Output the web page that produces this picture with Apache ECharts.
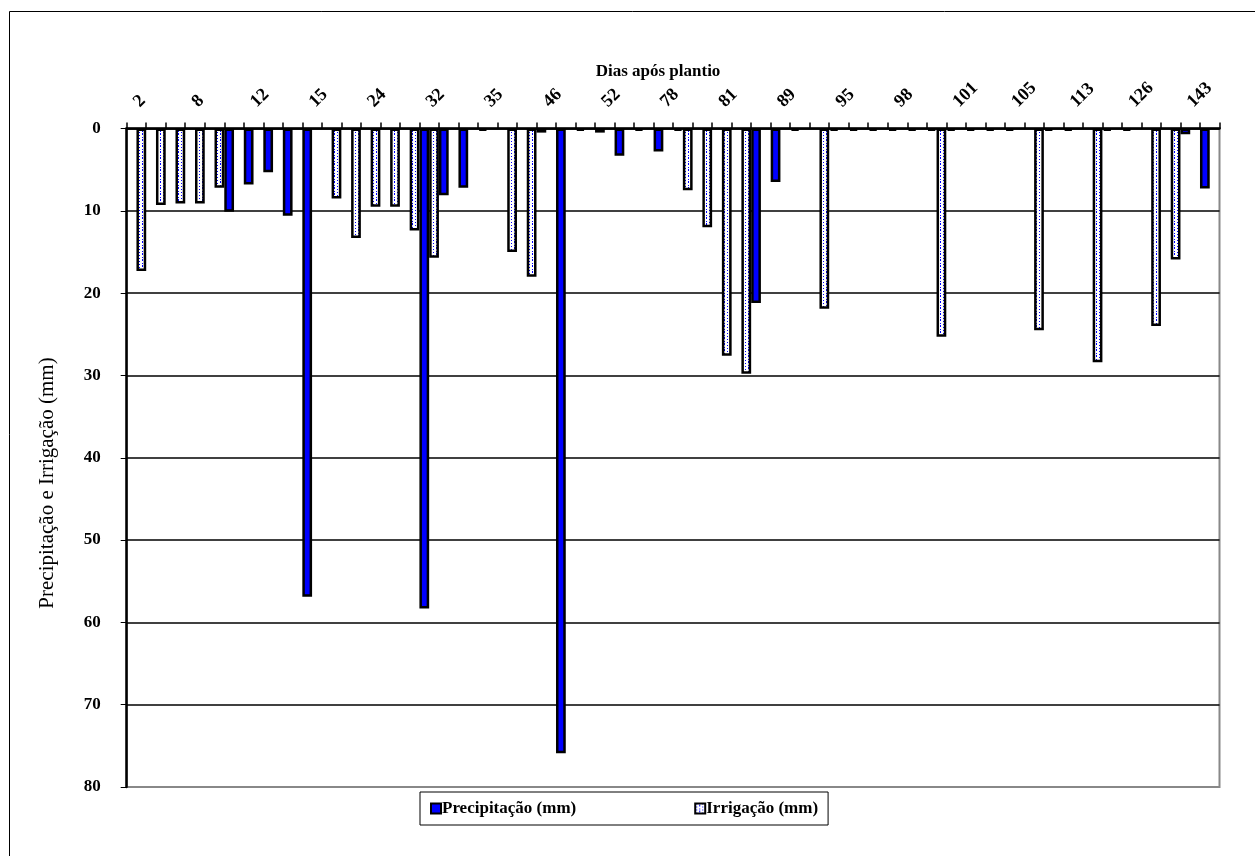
<!DOCTYPE html>
<html>
<head>
<meta charset="utf-8">
<script src="https://cdn.jsdelivr.net/npm/echarts@6/dist/echarts.min.js"></script>
<style>
html,body{margin:0;padding:0;background:#fff;}
#chart{width:1255px;height:856px;}
</style>
</head>
<body>
<div id="chart"></div>
<script>
// Categories: days after planting (only every third label is shown in the reference)
const days = [2, 4, 6, 8, 10, 11, 12, 13, 14, 15, 18, 21, 24, 27, 29, 32, 33, 34, 35, 39,
  42, 46, 48, 50, 52, 60, 70, 78, 79, 80, 81, 84, 86, 89, 91, 93, 95, 96, 97, 98,
  99, 100, 101, 102, 104, 105, 108, 110, 113, 117, 122, 126, 130, 136, 143, 146];

const precipitacao = [0, 0, 0, 0, 0, 10.1, 6.8, 5.3, 10.6, 56.9, 0, 0, 0, 0, 0, 58.3, 8.1, 7.2, 0.3, 0,
  0, 0.5, 75.9, 0.3, 0.5, 3.3, 0.3, 2.8, 0.3, 0, 0, 0, 21.2, 6.5, 0.3, 0, 0.3, 0.3, 0.3, 0.3,
  0.3, 0.3, 0.3, 0.3, 0.3, 0.3, 0, 0.3, 0.3, 0, 0.3, 0.3, 0, 0, 0.7, 7.3];

const irrigacao = [17.3, 9.3, 9.1, 9.1, 7.2, 0, 0, 0, 0, 0, 8.5, 13.3, 9.5, 9.5, 12.4, 15.7, 0, 0, 0, 15.0,
  18.0, 0, 0, 0, 0, 0, 0, 0, 7.5, 12.0, 27.6, 29.8, 0, 0, 0, 21.9, 0, 0, 0, 0,
  0, 25.3, 0, 0, 0, 0, 24.5, 0, 0, 28.4, 0, 0, 24.0, 15.9, 0, 0];

const yTicks = [0, 10, 20, 30, 40, 50, 60, 70, 80];

const seriesNames = ['Precipitação (mm)', 'Irrigação (mm)'];

// dotted fill pattern
const pc = document.createElement('canvas');
pc.width = 6; pc.height = 6;
const ctx = pc.getContext('2d');
ctx.fillStyle = '#ffffff';
ctx.fillRect(0, 0, 6, 6);
ctx.fillStyle = '#0000ff';
ctx.fillRect(1, 0, 1, 1);
ctx.fillRect(1, 3, 1, 1);
ctx.fillRect(4, 1, 1, 2);
ctx.fillRect(4, 5, 1, 1);

const toData = arr => arr.map(v => (v === 0 ? '-' : v));

const serif = '"Liberation Serif", "Times New Roman", serif';

const chart = echarts.init(document.getElementById('chart'), null, {renderer: 'canvas'});
chart.setOption({
  animation: false,
  backgroundColor: '#ffffff',
  title: {
    text: 'Dias após plantio',
    left: 653,
    top: 58,
    textAlign: 'center',
    textStyle: {fontFamily: serif, fontWeight: 'bold', fontSize: 17, color: '#000'}
  },
  legend: {
    data: seriesNames,
    left: 420,
    top: 792,
    orient: 'horizontal',
    icon: 'rect',
    itemWidth: 10,
    itemHeight: 10,
    itemGap: 118,
    padding: [8, 10, 8, 10],
    borderColor: '#000',
    borderWidth: 1,
    textStyle: {fontFamily: serif, fontWeight: 'bold', fontSize: 17, color: '#000', padding: [0, 0, 0, -4]}
  },
  grid: {
    left: 126.7,
    right: 35.5,
    top: 128.5,
    bottom: 69,
    show: true,
    borderColor: '#888888',
    borderWidth: 2,
    backgroundColor: 'transparent'
  },
  xAxis: {
    type: 'category',
    position: 'top',
    data: days,
    boundaryGap: true,
    axisLine: {show: true, lineStyle: {color: '#000', width: 2.5}},
    axisTick: {show: true, interval: 0, length: 6, inside: false, lineStyle: {color: '#000', width: 1.5}},
    axisLabel: {
      interval: 2,
      rotate: 45,
      margin: 24,
      fontFamily: serif,
      fontWeight: 'bold',
      fontSize: 18,
      color: '#000'
    },
    splitLine: {show: false}
  },
  yAxis: {
    type: 'value',
    inverse: true,
    min: yTicks[0],
    max: yTicks[yTicks.length - 1],
    interval: 10,
    axisLine: {show: true, lineStyle: {color: '#000', width: 2.5}},
    axisTick: {show: true, length: 6, inside: false, lineStyle: {color: '#000', width: 1}},
    axisLabel: {
      margin: 26,
      fontFamily: serif,
      fontWeight: 'bold',
      fontSize: 17,
      color: '#000'
    },
    splitLine: {show: true, lineStyle: {color: ['#000', '#000', '#000', '#000', '#000', '#000', '#000', '#000', '#888'], width: 1.5}}
  },
  graphic: [
    {
      type: 'rect',
      shape: {x: 9.5, y: 11.5, width: 1300, height: 900},
      style: {fill: null, stroke: '#000', lineWidth: 1},
      silent: true,
      z: 0
    },
    {
      type: 'text',
      x: 47,
      y: 483,
      rotation: Math.PI / 2,
      style: {
        text: 'Precipitação e Irrigação (mm)',
        fontFamily: serif,
        fontSize: 21,
        fill: '#000',
        textAlign: 'center',
        textVerticalAlign: 'middle'
      },
      silent: true
    }
  ],
  series: [
    {
      name: seriesNames[0],
      type: 'bar',
      data: toData(precipitacao),
      barGap: '0%',
      barCategoryGap: '0%',
      itemStyle: {color: '#0000ff', borderColor: '#000', borderWidth: 2.5}
    },
    {
      name: seriesNames[1],
      type: 'bar',
      data: toData(irrigacao),
      barGap: '0%',
      barCategoryGap: '0%',
      itemStyle: {color: {image: pc, repeat: 'repeat'}, borderColor: '#000', borderWidth: 2.5}
    }
  ]
});
</script>
</body>
</html>
